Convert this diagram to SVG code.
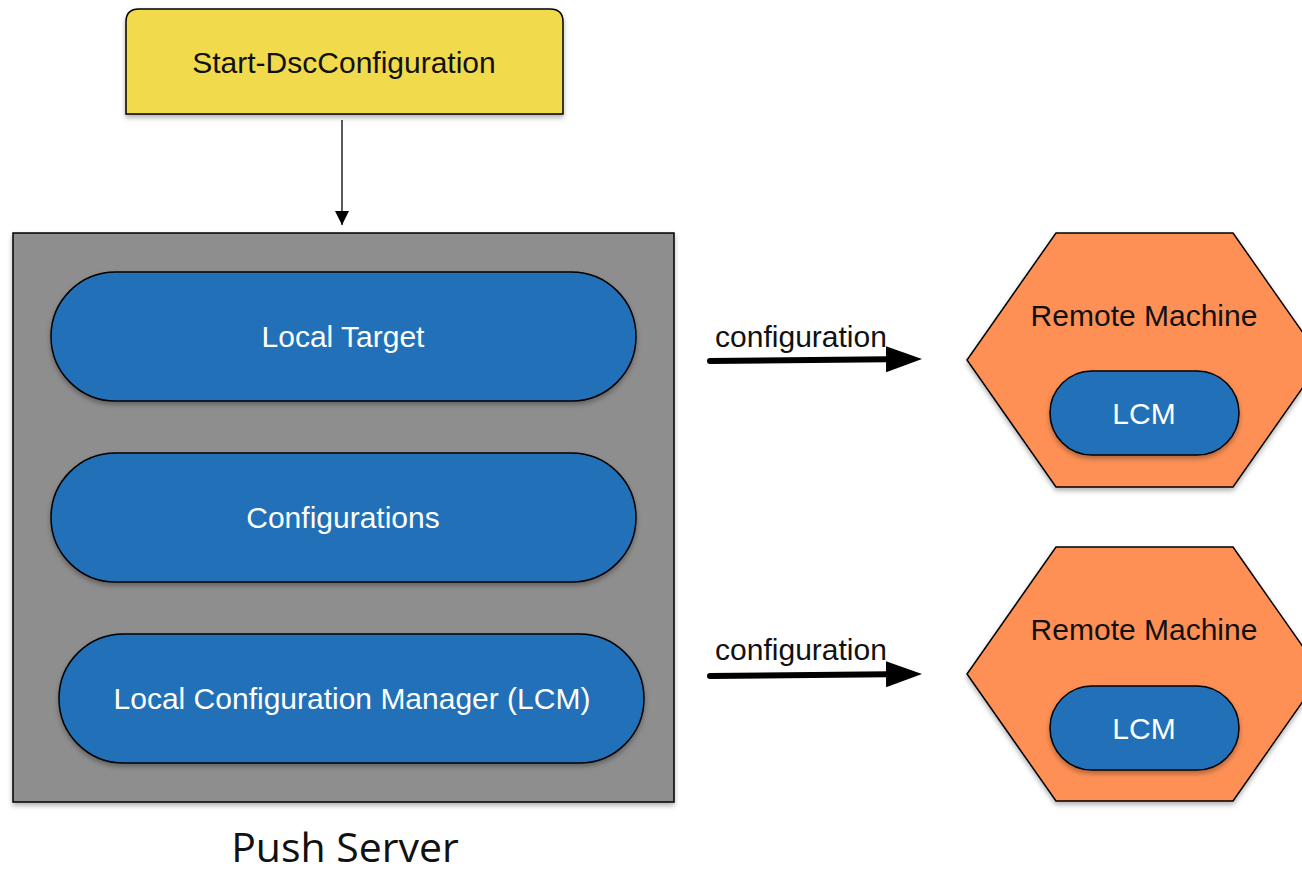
<svg xmlns="http://www.w3.org/2000/svg" width="1302" height="869" viewBox="0 0 1302 869">
  <defs>
    <filter id="shadow" x="-10%" y="-10%" width="125%" height="130%">
      <feDropShadow dx="0" dy="3" stdDeviation="2.5" flood-color="#000" flood-opacity="0.3"/>
    </filter>
    <marker id="thin-arrow" viewBox="0 0 14 18" refX="14" refY="9" markerWidth="14" markerHeight="18" markerUnits="userSpaceOnUse" orient="auto">
      <path d="M0,2 L14,9 L0,16 Z" fill="#000"/>
    </marker>
    <marker id="bold-arrow" viewBox="0 0 36 28" refX="2" refY="14" markerWidth="36" markerHeight="28" markerUnits="userSpaceOnUse" orient="auto">
      <path d="M0,1 L36,14 L0,27 Z" fill="#000"/>
    </marker>
  </defs>
  <style>
    .lbl { font-family: "Liberation Sans", Arial, sans-serif; font-size: 30px; text-anchor: middle; }
    .white { fill: #ffffff; }
    .dark { fill: #111111; }
    .pill { fill: #226fb8; stroke: #000; stroke-width: 1.5; filter: url(#shadow); }
    .hex { fill: #fe9054; stroke: #000; stroke-width: 1.5; filter: url(#shadow); }
  </style>
  <rect width="1302" height="869" fill="#ffffff"/>

  <g id="start-dsc">
    <path d="M126,114 L126,22 Q126,9 139,9 L550,9 Q563,9 563,22 L563,114 Z" fill="#f2da4e" stroke="#000" stroke-width="1.5" filter="url(#shadow)"/>
    <text class="lbl dark" x="344" y="73">Start-DscConfiguration</text>
  </g>

  <g id="push-server">
    <rect x="13" y="233" width="661" height="569" fill="#8e8e8e" stroke="#000" stroke-width="1.5" filter="url(#shadow)"/>
    <text x="345" y="862" font-family="'Open Sans', 'Liberation Sans', sans-serif" font-size="41" text-anchor="middle" fill="#111">Push Server</text>
  </g>

  <g id="local-target">
    <rect class="pill" x="51" y="272" width="585" height="129" rx="64.5"/>
    <text class="lbl white" x="343" y="347">Local Target</text>
  </g>

  <g id="configurations">
    <rect class="pill" x="51" y="453" width="585" height="129" rx="64.5"/>
    <text class="lbl white" x="343" y="528">Configurations</text>
  </g>

  <g id="lcm-local">
    <rect class="pill" x="59" y="634" width="585" height="129" rx="64.5"/>
    <text class="lbl white" x="352" y="709">Local Configuration Manager (LCM)</text>
  </g>

  <g id="remote-machine-1">
    <polygon class="hex" points="1056,233 1233,233 1322,360 1233,487 1056,487 967,360"/>
    <text class="lbl dark" x="1144" y="326">Remote Machine</text>
    <rect class="pill" x="1050" y="371" width="189" height="84" rx="42"/>
    <text class="lbl white" x="1144" y="424">LCM</text>
  </g>

  <g id="remote-machine-2">
    <polygon class="hex" points="1056,547 1233,547 1322,674 1233,801 1056,801 967,674"/>
    <text class="lbl dark" x="1144" y="640">Remote Machine</text>
    <rect class="pill" x="1050" y="686" width="189" height="84" rx="42"/>
    <text class="lbl white" x="1144" y="739">LCM</text>
  </g>

  <g id="connectors">
    <line x1="342" y1="120" x2="342" y2="225" stroke="#000" stroke-width="1.3" marker-end="url(#thin-arrow)"/>
    <line x1="710" y1="361" x2="888" y2="359.3" stroke="#000" stroke-width="6" stroke-linecap="round" marker-end="url(#bold-arrow)"/>
    <text class="lbl dark" x="801" y="347">configuration</text>
    <line x1="710" y1="676" x2="888" y2="674.3" stroke="#000" stroke-width="6" stroke-linecap="round" marker-end="url(#bold-arrow)"/>
    <text class="lbl dark" x="801" y="660">configuration</text>
  </g>
</svg>
